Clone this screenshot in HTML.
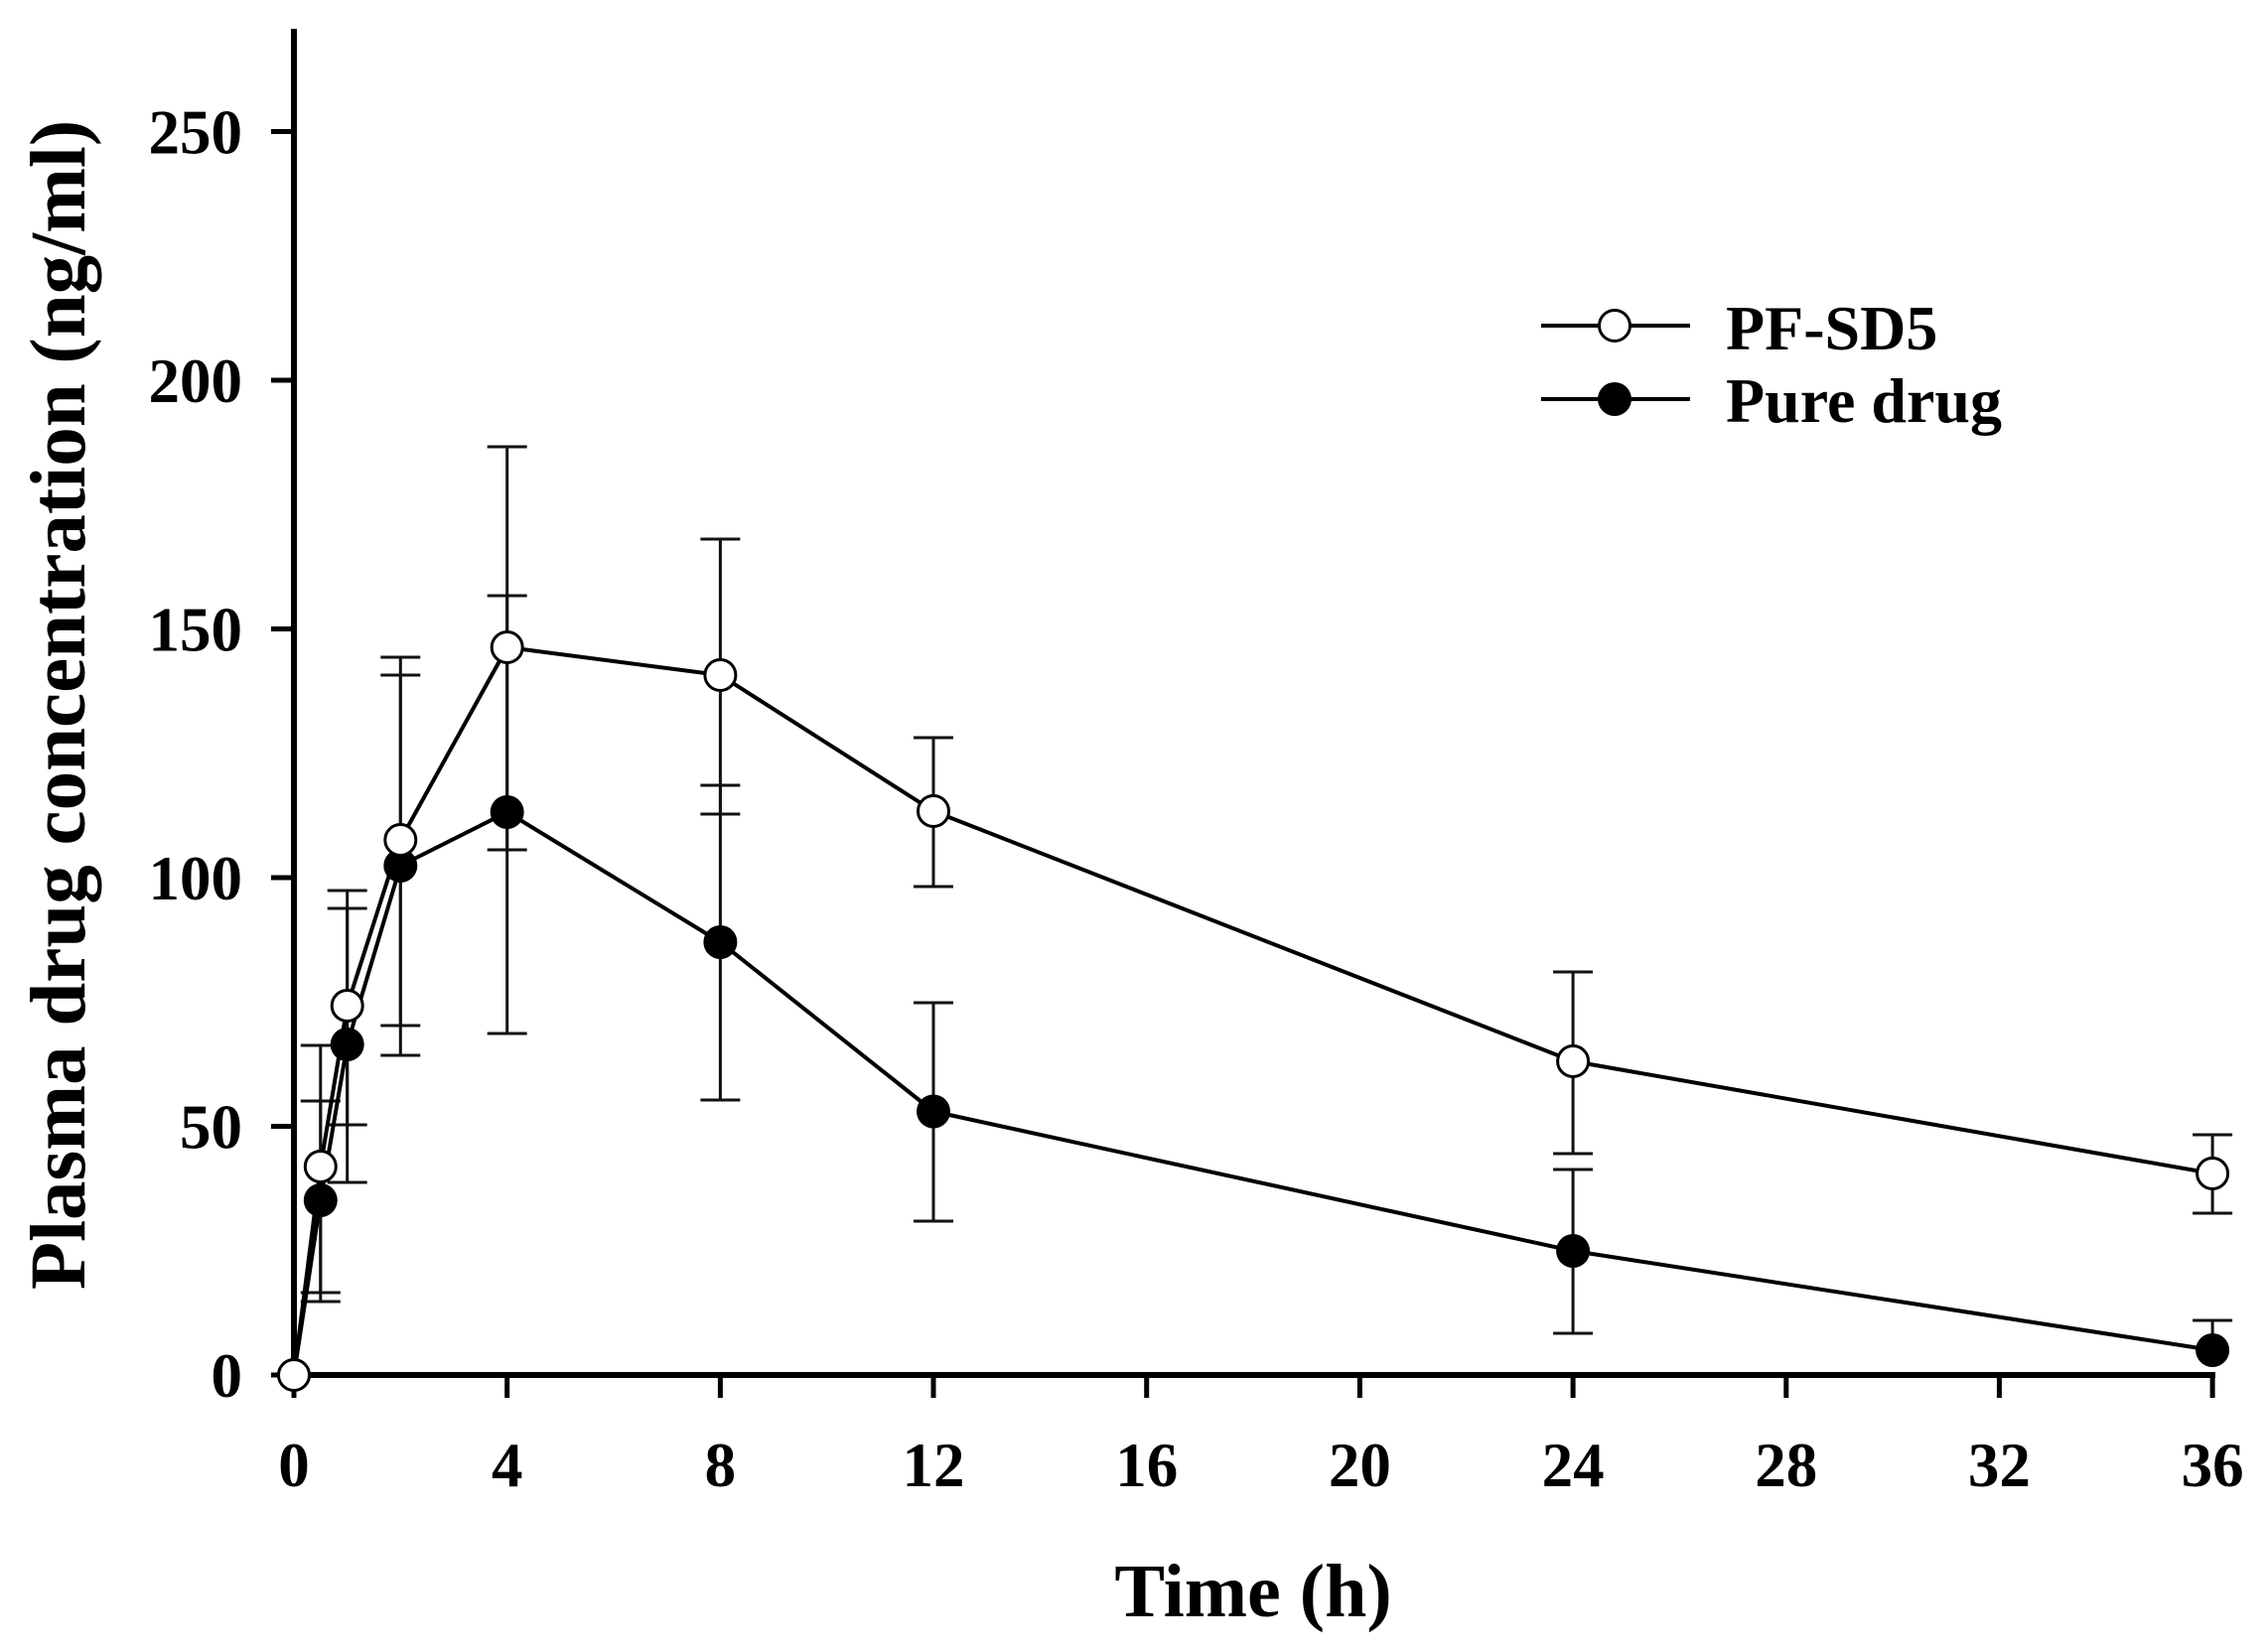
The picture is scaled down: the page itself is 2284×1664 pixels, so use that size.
<!DOCTYPE html>
<html>
<head>
<meta charset="utf-8">
<style>
html,body{margin:0;padding:0;background:#fff;}
svg{display:block;}
text{font-family:"Liberation Serif","Times New Roman",serif;font-weight:bold;fill:#000;}
</style>
</head>
<body>
<svg width="2284" height="1664" viewBox="0 0 2284 1664" xmlns="http://www.w3.org/2000/svg">
<rect width="2284" height="1664" fill="#fff"/>

<!-- Axes -->
<g stroke="#000" stroke-linecap="butt">
  <line x1="296" y1="29" x2="296" y2="1388" stroke-width="6"/>
  <line x1="293" y1="1385" x2="2231" y2="1385" stroke-width="6"/>
  <!-- y ticks -->
  <g stroke-width="5">
    <line x1="273" y1="1385" x2="296" y2="1385"/>
    <line x1="273" y1="1134.5" x2="296" y2="1134.5"/>
    <line x1="273" y1="884" x2="296" y2="884"/>
    <line x1="273" y1="633.5" x2="296" y2="633.5"/>
    <line x1="273" y1="383" x2="296" y2="383"/>
    <line x1="273" y1="132.5" x2="296" y2="132.5"/>
  </g>
  <!-- x ticks -->
  <g stroke-width="5">
    <line x1="296" y1="1385" x2="296" y2="1408"/>
    <line x1="510.7" y1="1385" x2="510.7" y2="1408"/>
    <line x1="725.4" y1="1385" x2="725.4" y2="1408"/>
    <line x1="940" y1="1385" x2="940" y2="1408"/>
    <line x1="1154.7" y1="1385" x2="1154.7" y2="1408"/>
    <line x1="1369.4" y1="1385" x2="1369.4" y2="1408"/>
    <line x1="1584.1" y1="1385" x2="1584.1" y2="1408"/>
    <line x1="1798.8" y1="1385" x2="1798.8" y2="1408"/>
    <line x1="2013.4" y1="1385" x2="2013.4" y2="1408"/>
    <line x1="2228.1" y1="1385" x2="2228.1" y2="1408"/>
  </g>
</g>

<!-- Y tick labels -->
<g font-size="63" text-anchor="end">
  <text x="244" y="1407">0</text>
  <text x="244" y="1156.5">50</text>
  <text x="244" y="906">100</text>
  <text x="244" y="655.5">150</text>
  <text x="244" y="405">200</text>
  <text x="244" y="154.5">250</text>
</g>

<!-- X tick labels -->
<g font-size="63" text-anchor="middle">
  <text x="296" y="1497">0</text>
  <text x="510.7" y="1497">4</text>
  <text x="725.4" y="1497">8</text>
  <text x="940" y="1497">12</text>
  <text x="1154.7" y="1497">16</text>
  <text x="1369.4" y="1497">20</text>
  <text x="1584.1" y="1497">24</text>
  <text x="1798.8" y="1497">28</text>
  <text x="2013.4" y="1497">32</text>
  <text x="2228.1" y="1497">36</text>
</g>

<!-- Axis titles -->
<text x="1262" y="1628" font-size="76" text-anchor="middle">Time (h)</text>
<text transform="translate(85,710) rotate(-90)" font-size="79" text-anchor="middle">Plasma drug concentration (ng/ml)</text>

<!-- Error bars -->
<g stroke="#111" stroke-width="3" fill="none">
  <!-- PF-SD5 -->
  <path d="M322.8 1053 V1302 M302.8 1053 H342.8 M302.8 1302 H342.8"/>
  <path d="M349.7 897 V1133 M329.7 897 H369.7 M329.7 1133 H369.7"/>
  <path d="M403.3 662 V1033 M383.3 662 H423.3 M383.3 1033 H423.3"/>
  <path d="M510.7 450 V856 M490.7 450 H530.7 M490.7 856 H530.7"/>
  <path d="M725.4 543 V820 M705.4 543 H745.4 M705.4 820 H745.4"/>
  <path d="M940 743 V893 M920 743 H960 M920 893 H960"/>
  <path d="M1584.1 979 V1162 M1564.1 979 H1604.1 M1564.1 1162 H1604.1"/>
  <path d="M2228.1 1143 V1222 M2208.1 1143 H2248.1 M2208.1 1222 H2248.1"/>
  <!-- Pure drug -->
  <path d="M322.8 1109 V1311 M302.8 1109 H342.8 M302.8 1311 H342.8"/>
  <path d="M349.7 915 V1191 M329.7 915 H369.7 M329.7 1191 H369.7"/>
  <path d="M403.3 680 V1063 M383.3 680 H423.3 M383.3 1063 H423.3"/>
  <path d="M510.7 600 V1041 M490.7 600 H530.7 M490.7 1041 H530.7"/>
  <path d="M725.4 791 V1108 M705.4 791 H745.4 M705.4 1108 H745.4"/>
  <path d="M940 1010 V1230 M920 1010 H960 M920 1230 H960"/>
  <path d="M1584.1 1178 V1343 M1564.1 1178 H1604.1 M1564.1 1343 H1604.1"/>
  <path d="M2228.1 1330 V1360 M2208.1 1330 H2248.1"/>
</g>

<!-- Pure drug line -->
<polyline fill="none" stroke="#000" stroke-width="4" stroke-linejoin="round"
  points="296,1385 322.8,1209 349.7,1052 403.3,872 510.7,818 725.4,949 940,1119.5 1584.1,1260 2228.1,1360"/>
<!-- PF-SD5 line -->
<polyline fill="none" stroke="#000" stroke-width="4" stroke-linejoin="round"
  points="296,1385 322.8,1175 349.7,1013 403.3,846 510.7,652 725.4,680 940,817 1584.1,1069 2228.1,1182"/>

<!-- Pure drug markers -->
<g fill="#000">
  <circle cx="322.8" cy="1209" r="17"/>
  <circle cx="349.7" cy="1052" r="17"/>
  <circle cx="403.3" cy="872" r="17"/>
  <circle cx="510.7" cy="818" r="17"/>
  <circle cx="725.4" cy="949" r="17"/>
  <circle cx="940" cy="1119.5" r="17"/>
  <circle cx="1584.1" cy="1260" r="17"/>
  <circle cx="2228.1" cy="1360" r="17"/>
</g>
<!-- PF-SD5 markers -->
<g fill="#fff" stroke="#000" stroke-width="3">
  <circle cx="296" cy="1385" r="15.5"/>
  <circle cx="322.8" cy="1175" r="15.5"/>
  <circle cx="349.7" cy="1013" r="15.5"/>
  <circle cx="403.3" cy="846" r="15.5"/>
  <circle cx="510.7" cy="652" r="15.5"/>
  <circle cx="725.4" cy="680" r="15.5"/>
  <circle cx="940" cy="817" r="15.5"/>
  <circle cx="1584.1" cy="1069" r="15.5"/>
  <circle cx="2228.1" cy="1182" r="15.5"/>
</g>

<!-- Legend -->
<g stroke="#000" stroke-width="4">
  <line x1="1552" y1="328" x2="1702" y2="328"/>
  <line x1="1552" y1="402" x2="1702" y2="402"/>
</g>
<circle cx="1626" cy="328" r="15.5" fill="#fff" stroke="#000" stroke-width="3"/>
<circle cx="1626" cy="402" r="17" fill="#000"/>
<g font-size="64">
  <text x="1738" y="352">PF-SD5</text>
  <text x="1738" y="425">Pure drug</text>
</g>
</svg>
</body>
</html>
